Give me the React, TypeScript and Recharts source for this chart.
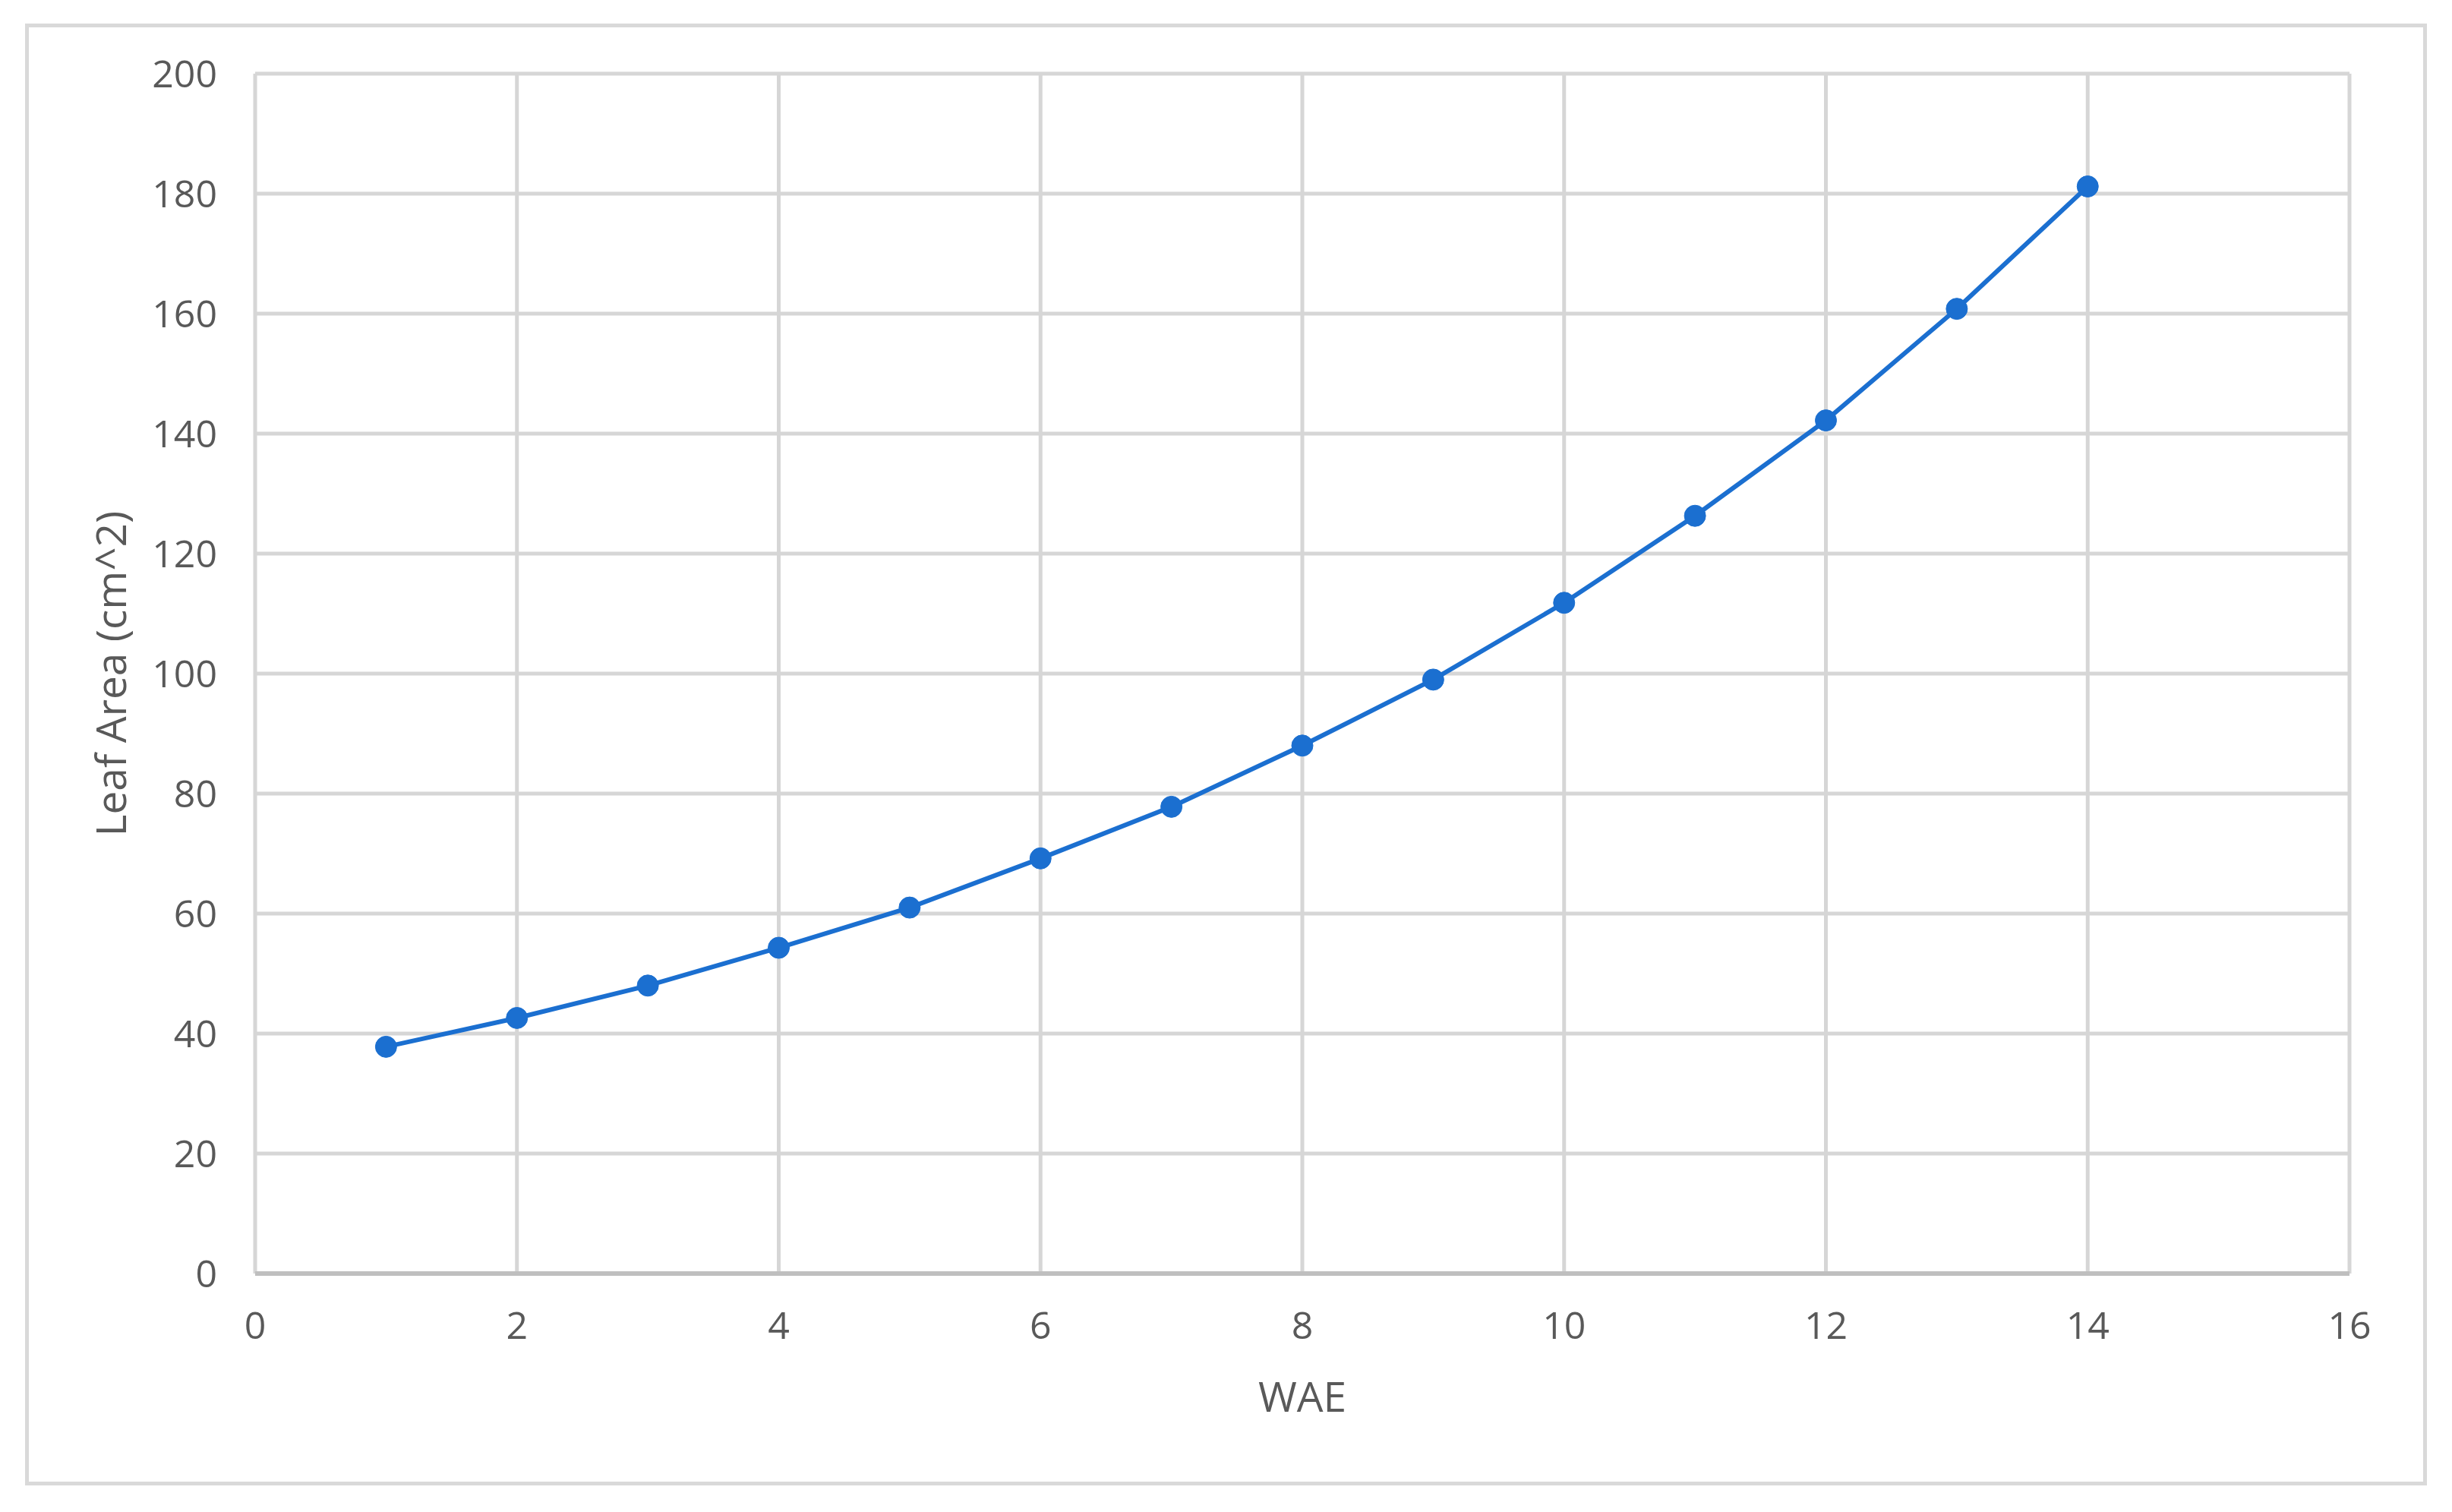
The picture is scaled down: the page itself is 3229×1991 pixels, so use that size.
import { LineChart, Line, XAxis, YAxis, CartesianGrid, Label } from 'recharts';

// WAE (x) and leaf area (cm^2)
const wae = [1, 2, 3, 4, 5, 6, 7, 8, 9, 10, 11, 12, 13, 14];
const leafArea = [37.8, 42.6, 48, 54.3, 61, 69.2, 77.8, 88, 99, 111.8, 126.3, 142.2, 160.8, 181.2];
const xTicks = [0, 2, 4, 6, 8, 10, 12, 14, 16];
const yTicks = [0, 20, 40, 60, 80, 100, 120, 140, 160, 180, 200];

const data = wae.map((x, i) => ({ wae: x, area: leafArea[i] }));

const FONT = '"Open Sans", sans-serif';
const TEXT = '#595959';
const BLUE = '#1b6fd0';

export default function App() {
  return (
    <div style={{ position: 'absolute', left: 0, top: 0, width: 3229, height: 1991, background: '#fff' }}>
      {/* outer chart frame */}
      <div
        style={{
          position: 'absolute',
          left: 33,
          top: 31,
          width: 3163,
          height: 1925,
          border: '5px solid #d9d9d9',
          boxSizing: 'border-box',
        }}
      />
      <div style={{ position: 'absolute', left: 0, top: 0 }}>
        <LineChart
          width={3229}
          height={1991}
          data={data}
          margin={{ top: 97, right: 135, left: 0, bottom: 0 }}
        >
          <CartesianGrid stroke="#d6d6d6" strokeWidth={5} />
          <XAxis
            dataKey="wae"
            type="number"
            domain={[0, 16]}
            ticks={xTicks}
            interval={0}
            height={314}
            tickLine={false}
            axisLine={{ stroke: '#bfbfbf', strokeWidth: 6 }}
            tickMargin={44}
            tick={{ fill: TEXT, fontSize: 50, fontFamily: FONT }}
          >
            <Label
              content={({ viewBox }: any) => (
                <text
                  x={viewBox.x + viewBox.width / 2}
                  y={viewBox.y + 160}
                  textAnchor="middle"
                  dominantBaseline="central"
                  fill={TEXT}
                  fontSize={55}
                  fontFamily={FONT}
                >
                  WAE
                </text>
              )}
            />
          </XAxis>
          <YAxis
            type="number"
            domain={[0, 200]}
            ticks={yTicks}
            interval={0}
            width={336}
            tickLine={false}
            axisLine={false}
            tickMargin={44}
            tick={{ fill: TEXT, fontSize: 50, fontFamily: FONT }}
          >
            <Label
              content={({ viewBox }: any) => {
                const cx = 144;
                const cy = viewBox.y + viewBox.height / 2;
                return (
                  <text
                    x={cx}
                    y={cy}
                    transform={`rotate(-90 ${cx} ${cy})`}
                    textAnchor="middle"
                    dominantBaseline="central"
                    fill={TEXT}
                    fontSize={55}
                    fontFamily={FONT}
                  >
                    Leaf Area (cm^2)
                  </text>
                );
              }}
            />
          </YAxis>
          <Line
            type="linear"
            dataKey="area"
            stroke={BLUE}
            strokeWidth={6}
            dot={{ r: 14, fill: BLUE, stroke: BLUE, strokeWidth: 1 }}
            activeDot={false}
            isAnimationActive={false}
          />
        </LineChart>
      </div>
    </div>
  );
}
